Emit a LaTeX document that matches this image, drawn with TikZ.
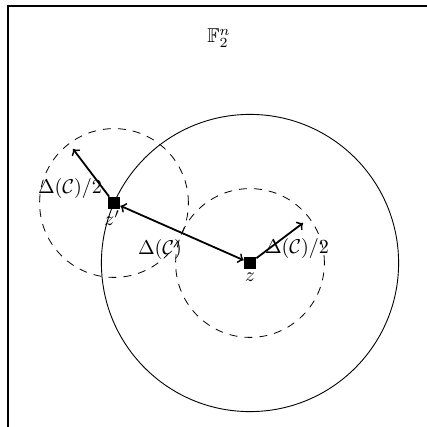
\documentclass[tikz,border=0pt]{standalone}
\usepackage{amssymb}
\begin{document}
\begin{tikzpicture}[x=0.5pt,y=-0.5pt,
  pt/.style={fill=black,minimum size=6pt,inner sep=0pt},
  dcirc/.style={dash pattern=on 4pt off 3.5pt, line width=0.4pt},
  arr/.style={->, line width=0.9pt},
  lbl/.style={inner sep=0pt}]
\useasboundingbox (0,0) rectangle (427,427);
\clip (0,0) rectangle (427,427);
\draw[line width=0.6pt] (8,6) rectangle (460,460);
\node[pt] (z) at (250,263) {};
\node[pt] (zp) at (114,203) {};
\draw[line width=0.45pt] (z.center) circle[radius=74.3pt];
\draw[dcirc] (zp.center) circle[radius=37.2pt];
\draw[dcirc] (z.center) circle[radius=37.2pt];
\coordinate (a) at (73,149);
\coordinate (b) at (303,223);
\draw[arr] (zp) -- (a);
\draw[arr] (z) -- (b);
\draw[arr,<->] (zp) -- (z);
\node[lbl] (lz) at (250,277) {$z$};
\node[lbl] (lzp) at (112,218) {$z'$};
\node[lbl] (lF) at (219,38) {$\mathbb{F}_2^n$};
\node[lbl] (lD) at (160,249) {$\Delta(\mathcal{C})$};
\node[lbl] (lD1) at (70,188) {$\Delta(\mathcal{C})/2$};
\node[lbl] (lD2) at (297,248) {$\Delta(\mathcal{C})/2$};
\end{tikzpicture}
\end{document}
